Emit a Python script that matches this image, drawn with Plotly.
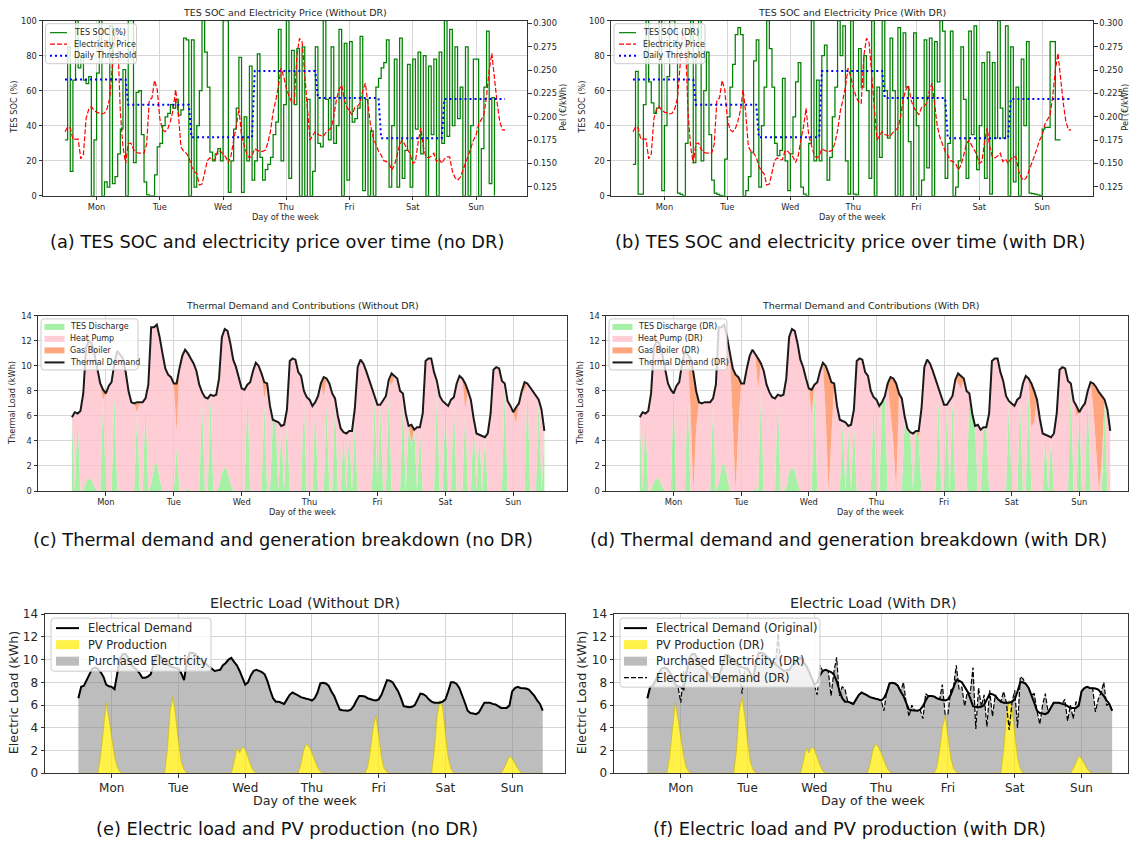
import plotly.graph_objects as go

W, H = 1130, 841
HOURS = list(range(168))
DAY_TICKS = [12, 36, 60, 84, 108, 132, 156]
DAY_LABELS = ["Mon", "Tue", "Wed", "Thu", "Fri", "Sat", "Sun"]

# ---------------- data ----------------
PRICE = [
    0.184, 0.189, 0.188, 0.176, 0.176, 0.176, 0.155, 0.160, 0.198, 0.208,
    0.211, 0.207, 0.205, 0.204, 0.203, 0.204, 0.209, 0.220, 0.252, 0.291,
    0.284, 0.205, 0.168, 0.150, 0.171, 0.172, 0.165, 0.162, 0.161, 0.161,
    0.161, 0.171, 0.218, 0.220, 0.239, 0.229, 0.198, 0.186, 0.184, 0.187,
    0.195, 0.207, 0.229, 0.204, 0.168, 0.163, 0.161, 0.157, 0.147, 0.142,
    0.139, 0.127, 0.128, 0.140, 0.153, 0.156, 0.154, 0.154, 0.164, 0.163,
    0.160, 0.157, 0.151, 0.158, 0.175, 0.189, 0.209, 0.180, 0.170, 0.160,
    0.156, 0.158, 0.166, 0.164, 0.163, 0.163, 0.164, 0.172, 0.185, 0.205,
    0.218, 0.232, 0.252, 0.243, 0.231, 0.222, 0.216, 0.214, 0.265, 0.284,
    0.280, 0.245, 0.205, 0.175, 0.180, 0.184, 0.181, 0.180, 0.179, 0.183,
    0.186, 0.188, 0.200, 0.218, 0.229, 0.234, 0.218, 0.210, 0.206, 0.202,
    0.210, 0.211, 0.215, 0.228, 0.236, 0.210, 0.190, 0.178, 0.170, 0.163,
    0.159, 0.153, 0.152, 0.150, 0.143, 0.148, 0.158, 0.170, 0.175, 0.170,
    0.165, 0.160, 0.150, 0.152, 0.172, 0.188, 0.168, 0.157, 0.156, 0.158,
    0.161, 0.152, 0.155, 0.150, 0.155, 0.157, 0.157, 0.142, 0.135, 0.132,
    0.135, 0.142, 0.150, 0.158, 0.166, 0.175, 0.180, 0.192, 0.197, 0.202,
    0.222, 0.250, 0.268, 0.240, 0.215, 0.195, 0.186, 0.186,
]
THRESHOLD_DAILY = [0.240, 0.213, 0.178, 0.249, 0.220, 0.177, 0.219]

SOC_NO_DR = [
    32, 85, 14, 66, 100, 73, 80, 66, 64, 68,
    0, 32, 70, 100, 0, 8, 5, 97, 7, 11,
    24, 38, 72, 0, 100, 100, 19, 59, 60, 35,
    8, 0.5, 0, 0, 12, 28, 30, 40, 45, 47,
    52, 50, 55, 46, 49, 90, 89, 0, 89, 5,
    40, 60, 100, 82, 62, 25, 20, 24, 27, 20,
    100, 100, 2, 20, 38, 50, 79, 2, 45, 20,
    74, 9, 20, 81, 22, 9, 15, 18, 22, 35,
    42, 95, 20, 52, 100, 10, 83, 52, 84, 0,
    85, 0, 55, 0, 14, 85, 30, 28, 100, 55,
    32, 85, 30, 40, 95, 0, 87, 9, 88, 42,
    44, 50, 91, 3, 55, 0, 37, 0, 62, 67,
    73, 76, 89, 5, 40, 78, 5, 90, 10, 26,
    75, 5, 78, 38, 82, 24, 80, 0, 74, 35,
    78, 0, 82, 30, 100, 34, 95, 40, 85, 44,
    62, 0, 85, 0, 40, 78, 78, 0, 27, 62,
    94, 7, 56, 0,
]
SOC_DR = [
    18, 71, 1, 1, 52, 100, 65, 53, 47, 50,
    100, 3, 40, 68, 100, 100, 94, 1.5, 0.8, 0,
    30, 88, 100, 19, 80, 100, 20, 60, 82, 35,
    9, 1.5, 0.8, 0.3, 0, 21, 45, 62, 75, 92,
    96, 92, 0, 3, 11, 25, 77, 89, 5, 40,
    62, 100, 84, 62, 30, 23, 26, 67, 20, 3,
    24, 45, 65, 76, 5, 1, 0, 30, 100, 20,
    66, 20, 80, 86, 9, 22, 45, 62, 100, 80,
    97, 20, 1, 100, 1, 0.5, 84, 62, 80, 60,
    10, 100, 0, 62, 22, 100, 60, 33, 90, 60,
    0, 96, 0, 93, 62, 31, 0, 93, 40, 0,
    9, 89, 16, 90, 0, 88, 65, 100, 94, 10,
    30, 94, 0, 5, 20, 85, 55, 10, 94, 35,
    97, 15, 40, 76, 10, 82, 1, 76, 33, 100,
    50, 33, 97, 0, 85, 8, 62, 0, 78, 40,
    88, 1.5, 1.2, 1.0, 0.5, 0.2, 38, 39, 39, 88,
    88, 32, 32, 32,
]

THERMAL_DEMAND = [
    5.9, 6.3, 6.2, 6.4, 7.8, 11.5, 12.0, 11.8, 10.9, 9.7,
    8.6, 8.1, 7.8, 8.4, 8.7, 10.2, 11.2, 10.9, 10.6, 9.5,
    8.0, 7.1, 7.0, 7.1, 7.1, 7.1, 7.4, 8.5, 13.1, 13.1,
    13.3, 12.3, 11.0, 9.8, 9.3, 9.1, 8.6, 8.6, 9.8, 10.8,
    11.3, 11.0, 10.6, 10.2, 9.6, 8.5, 7.9, 7.5, 7.4, 7.7,
    7.6, 7.7, 9.0, 12.3, 12.95, 12.8, 11.8, 10.5, 9.9, 9.0,
    8.2, 8.1, 8.5, 8.7, 9.6, 10.25, 10.0, 9.4, 8.7, 8.6,
    6.8, 5.7, 5.6, 5.5, 5.2, 5.3, 6.5, 10.4, 10.6, 10.5,
    9.5, 9.2, 8.0, 7.5, 7.3, 6.8, 7.1, 7.6, 8.6, 9.1,
    9.0, 8.6, 7.8, 7.4, 6.0, 5.0, 4.7, 4.6, 4.8, 4.8,
    6.6, 9.9, 10.5, 10.2, 9.6, 8.9, 8.3, 7.5, 6.9, 6.9,
    7.3, 7.6, 8.9, 9.4, 9.2, 9.0, 8.0, 7.8, 6.2, 5.2,
    5.3, 4.9, 5.1, 5.1, 6.2, 10.4, 10.6, 10.6, 9.5, 8.8,
    7.6, 7.2, 7.0, 6.8, 7.3, 7.5, 8.6, 9.2, 9.0, 8.6,
    8.0, 7.3, 5.8, 4.6, 4.5, 4.4, 4.3, 4.6, 6.2, 9.7,
    9.9, 9.8, 8.8, 8.6, 7.2, 6.8, 6.3, 6.7, 7.0, 8.0,
    8.7, 8.6, 8.3, 7.9, 7.6, 7.3, 6.5, 4.8,
]
# hour -> kWh (hours not listed are zero)
TES_NO_DR = {0: 5.9, 2: 6.0, 4: 0.1, 5: 0.7, 6: 1.05, 7: 0.9, 8: 0.3, 11: 7.3,
             15: 7.8, 17: 0.15, 23: 6.3, 26: 7.0, 28: 0.5, 29: 2.0, 30: 2.2,
             31: 1.0, 37: 3.5, 41: 0.2, 46: 7.4, 49: 7.6, 52: 0.3, 53: 1.5,
             54: 1.9, 55: 1.6, 56: 0.6, 62: 8.0, 68: 7.0, 71: 5.6, 72: 5.5,
             74: 5.0, 76: 5.5, 82: 7.5, 86: 7.0, 90: 7.0, 93: 7.3, 96: 4.7,
             98: 4.8, 100: 5.5, 107: 7.5, 109: 6.9, 112: 8.0, 117: 7.5, 119: 5.2,
             120: 3.6, 121: 4.9, 123: 5.1, 129: 8.0, 132: 7.0, 135: 7.3, 139: 6.5,
             142: 5.5, 144: 4.5, 146: 4.3, 153: 8.5, 161: 8.5, 165: 7.3, 167: 4.8}
GAS_NO_DR = {11: 0.8, 23: 0.8, 37: 3.9, 68: 1.3, 89: 1.5, 113: 0.9, 120: 1.4,
             139: 2.1, 157: 1.3, 160: 0.7}
TES_DR = {0: 5.9, 2: 6.0, 4: 0.1, 5: 0.7, 6: 1.05, 7: 0.9, 8: 0.3, 12: 7.8,
          17: 7.8, 26: 7.0, 28: 0.5, 29: 2.0, 30: 2.2, 31: 1.0, 41: 0.2, 43: 8.0,
          49: 7.5, 52: 0.3, 53: 1.5, 54: 1.9, 55: 1.6, 56: 0.6, 62: 8.2, 72: 5.5,
          74: 5.0, 76: 5.6, 83: 7.4, 86: 7.0, 87: 7.3, 94: 5.5, 95: 4.7, 96: 4.7,
          98: 4.8, 99: 4.3, 106: 7.5, 109: 6.9, 111: 7.4, 117: 7.8, 118: 6.2,
          119: 5.2, 122: 5.1, 123: 5.1, 131: 7.2, 135: 7.3, 138: 8.0, 144: 4.5,
          146: 4.3, 153: 8.5, 156: 6.3, 159: 7.8, 165: 7.3}
GAS_DR = {18: 4.0, 19: 9.5, 20: 3.0, 33: 5.0, 34: 9.3, 35: 4.0, 42: 2.5, 61: 2.0,
          66: 4.0, 67: 9.4, 68: 4.0, 89: 3.0, 90: 5.0, 91: 8.6, 99: 0.5, 113: 0.8,
          114: 1.0, 139: 3.5, 140: 2.5, 155: 0.8, 161: 2.0, 162: 5.0, 163: 7.9,
          164: 5.0}

ELEC_DEMAND = [
    6.6, 7.6, 7.7, 8.2, 8.8, 9.2, 9.3, 9.2, 8.9, 8.5,
    7.8, 7.65, 7.6, 7.4, 8.8, 10.1, 10.5, 10.5, 10.1, 9.6,
    9.3, 9.1, 8.8, 8.4, 8.4, 8.5, 8.7, 9.6, 10.4, 10.4,
    10.1, 9.9, 9.6, 9.4, 9.3, 9.25, 9.2, 8.8, 8.2, 9.8,
    10.6, 10.6, 10.5, 10.2, 10.0, 9.8, 9.6, 9.4, 9.2, 9.0,
    9.05, 9.1, 9.5, 9.7, 10.0, 10.15, 9.8, 9.5, 9.0, 8.4,
    7.8, 8.0, 8.6, 9.0, 9.1, 9.0, 8.9, 8.7, 8.1, 7.3,
    6.6, 6.3, 6.3, 6.2, 6.1, 6.5, 6.9, 7.1, 7.0, 6.85,
    6.7, 6.6, 6.55, 6.5, 6.4, 6.6, 7.1, 7.9, 7.95, 7.9,
    7.7, 7.2, 6.8, 6.2, 5.6, 5.55, 5.55, 5.5, 5.6, 5.9,
    6.4, 6.8, 6.8, 6.75, 6.6, 6.5, 6.45, 6.4, 6.5, 6.9,
    7.6, 8.2, 8.15, 8.0, 7.6, 7.2, 6.6, 5.9, 5.85, 5.8,
    5.85, 6.0, 6.5, 7.0, 6.95, 6.8, 6.5, 6.3, 6.2, 6.2,
    6.2, 6.3, 6.5, 7.2, 8.0, 8.0, 7.85, 7.5, 6.9, 6.2,
    5.5, 5.3, 5.25, 5.2, 5.35, 5.8, 6.2, 6.2, 6.2, 6.1,
    6.05, 5.9, 5.75, 5.75, 5.75, 5.95, 7.2, 7.5, 7.6, 7.5,
    7.5, 7.45, 7.35, 7.1, 6.8, 6.4, 6.1, 5.5,
]
PV_PRODUCTION = {8: 1.5, 9: 4.0, 10: 6.2, 11: 4.8, 12: 3.0, 13: 1.5, 14: 0.5, 15: 0.1,
                 32: 2.0, 33: 5.5, 34: 6.7, 35: 5.0, 36: 2.8, 37: 1.0, 38: 0.3,
                 56: 1.0, 57: 2.2, 58: 1.8, 59: 2.3, 60: 2.1, 61: 1.4, 62: 0.7, 63: 0.2,
                 80: 0.8, 81: 2.0, 82: 2.6, 83: 2.3, 84: 1.8, 85: 1.1, 86: 0.5, 87: 0.15,
                 104: 0.5, 105: 2.0, 106: 4.0, 107: 5.1, 108: 3.3, 109: 1.4, 110: 0.4,
                 111: 0.1, 128: 2.0, 129: 5.0, 130: 6.4, 131: 5.8, 132: 3.5, 133: 1.4,
                 134: 0.4, 153: 0.4, 154: 1.0, 155: 1.5, 156: 1.3, 157: 0.8, 158: 0.4,
                 159: 0.1}
# hours where the DR electrical demand departs from the original
ELEC_DEMAND_DR_CHANGES = {12: 6.2, 13: 9.0, 34: 7.0, 47: 12.3, 61: 6.9, 62: 9.5,
                          66: 6.8, 67: 8.9, 68: 10.2, 69: 6.8, 70: 7.6, 71: 7.4,
                          85: 5.5, 86: 7.2, 92: 8.0, 94: 5.0, 95: 6.0, 99: 4.8,
                          100: 7.0, 106: 7.8, 107: 5.2, 108: 5.2, 109: 7.3, 111: 9.5,
                          112: 7.4, 113: 7.6, 114: 5.9, 116: 7.0, 117: 9.3, 118: 3.9,
                          119: 7.5, 121: 6.9, 122: 4.1, 123: 7.3, 124: 5.0, 125: 6.9,
                          128: 7.2, 130: 3.8, 131: 6.2, 132: 7.3, 133: 4.0, 134: 8.5,
                          135: 8.3, 139: 7.0, 141: 4.3, 142: 6.0, 143: 7.0, 150: 6.5,
                          151: 4.6, 152: 6.0, 153: 4.8, 154: 6.3, 161: 5.4, 162: 6.5,
                          164: 8.0, 165: 6.0}

assert len(PRICE) == 168 and len(THERMAL_DEMAND) == 168 and len(ELEC_DEMAND) == 168
assert len(SOC_NO_DR) == 164 and len(SOC_DR) == 164


def expand(d):
    return [d.get(h, 0.0) for h in HOURS]


THRESHOLD = [THRESHOLD_DAILY[h // 24] for h in HOURS]
PV = expand(PV_PRODUCTION)
ELEC_DEMAND_DR = [ELEC_DEMAND_DR_CHANGES.get(h, ELEC_DEMAND[h]) for h in HOURS]


def breakdown(tes_d, gas_d):
    tes, gas = expand(tes_d), expand(gas_d)
    hp = [max(THERMAL_DEMAND[h] - tes[h] - gas[h], 0.0) for h in HOURS]
    return tes, hp, gas


# ---------------- styles ----------------
FONT = "DejaVu Sans"
TXT = "#262626"
GRID = "#d6d6d6"
C_SOC = "#008000"
C_PRICE = "#ff0000"
C_THR = "#0000ff"
C_TES = "rgba(144,238,144,0.8)"
C_HP = "rgba(255,192,203,0.8)"
C_GAS = "rgba(255,150,105,0.85)"
C_PV = "rgba(255,236,0,0.72)"
C_GRAY = "rgba(128,128,128,0.52)"
DASH = "5px,2px"
DOT = "2px,3px"

fig = go.Figure()

# ---------- (a) and (b): SOC + price ----------
for soc, xa, ya, ya2 in [(SOC_NO_DR, "x", "y", "y2"), (SOC_DR, "x2", "y3", "y4")]:
    fig.add_trace(go.Scatter(x=HOURS[:len(soc)], y=soc, mode="lines",
                             line=dict(color=C_SOC, width=1.25, shape="hv"),
                             xaxis=xa, yaxis=ya, showlegend=False))
    fig.add_trace(go.Scatter(x=HOURS, y=PRICE, mode="lines",
                             line=dict(color=C_PRICE, width=1.2, dash=DASH),
                             xaxis=xa, yaxis=ya2, showlegend=False))
    fig.add_trace(go.Scatter(x=HOURS, y=THRESHOLD, mode="lines",
                             line=dict(color=C_THR, width=2, dash=DOT),
                             xaxis=xa, yaxis=ya2, showlegend=False))

# ---------- (c) and (d): thermal breakdown ----------
for tes_d, gas_d, xa, ya, sg in [(TES_NO_DR, GAS_NO_DR, "x3", "y5", "c"),
                                  (TES_DR, GAS_DR, "x4", "y6", "d")]:
    tes, hp, gas = breakdown(tes_d, gas_d)
    for vals, col in [(tes, C_TES), (hp, C_HP), (gas, C_GAS)]:
        fig.add_trace(go.Scatter(x=HOURS, y=vals, mode="lines", stackgroup=sg,
                                 line=dict(width=0), fillcolor=col,
                                 xaxis=xa, yaxis=ya, showlegend=False))
    fig.add_trace(go.Scatter(x=HOURS, y=THERMAL_DEMAND, mode="lines",
                             line=dict(color="#1a1a1a", width=2),
                             xaxis=xa, yaxis=ya, showlegend=False))

# ---------- (e) and (f): electric load ----------
for demand_used, xa, ya, sg in [(ELEC_DEMAND, "x5", "y7", "e"),
                                (ELEC_DEMAND_DR, "x6", "y8", "f")]:
    purch = [max(demand_used[h] - PV[h], 0.0) for h in HOURS]
    fig.add_trace(go.Scatter(x=HOURS, y=PV, mode="lines", stackgroup=sg,
                             line=dict(width=0.8, color="rgba(205,185,0,0.9)"),
                             fillcolor=C_PV, xaxis=xa, yaxis=ya, showlegend=False))
    fig.add_trace(go.Scatter(x=HOURS, y=purch, mode="lines", stackgroup=sg,
                             line=dict(width=0), fillcolor=C_GRAY,
                             xaxis=xa, yaxis=ya, showlegend=False))
    fig.add_trace(go.Scatter(x=HOURS, y=ELEC_DEMAND, mode="lines",
                             line=dict(color="black", width=2),
                             xaxis=xa, yaxis=ya, showlegend=False))
fig.add_trace(go.Scatter(x=HOURS, y=ELEC_DEMAND_DR, mode="lines",
                         line=dict(color="black", width=1.2, dash=DASH),
                         xaxis="x6", yaxis="y8", showlegend=False))


# ---------------- layout helpers ----------------
# vertical placement correction measured from previous renders
def Y(y):
    return (y - 6.35) / 0.9826


def px(x):
    return x / W


def py(y):
    return 1 - Y(y) / H


def dom_x(a, b):
    return [a / W, min(b / W, 1.0)]


def dom_y(top, bottom):
    return [py(bottom), py(top)]


def axis(domain, rng, size, **kw):
    d = dict(domain=domain, range=rng, showline=True, linecolor="#333333",
             linewidth=1, mirror=True, ticks="outside", ticklen=3.5,
             tickcolor="#333333", showgrid=True, gridcolor=GRID, gridwidth=1,
             zeroline=False, tickfont=dict(family=FONT, size=size, color=TXT))
    d.update(kw)
    return d


PA = dict(x=(43, 527), y=(20, 195))
PB = dict(x=(611, 1093), y=(20, 195))
PC = dict(x=(38, 567), y=(315, 490))
PD = dict(x=(606, 1128), y=(315, 490))
PE = dict(x=(45, 565), y=(613, 772))
PF = dict(x=(614, 1128), y=(613, 772))

xt = dict(tickmode="array", tickvals=DAY_TICKS, ticktext=DAY_LABELS)
price_ticks = [0.125, 0.150, 0.175, 0.200, 0.225, 0.250, 0.275, 0.300]
SMALL = 8.3
BIG = 12

lay = {}
lay["xaxis"] = axis(dom_x(*PA["x"]), [-8.35, 175.35], SMALL, anchor="y", **xt)
lay["yaxis"] = axis(dom_y(*PA["y"]), [0, 100], SMALL, anchor="x", tickvals=[0, 20, 40, 60, 80, 100])
lay["yaxis2"] = axis(dom_y(*PA["y"]), [0.1154, 0.3029], SMALL, anchor="x", overlaying="y",
                     side="right", showgrid=False, mirror=False, tickvals=price_ticks,
                     ticktext=["%.3f" % v for v in price_ticks])
lay["xaxis2"] = axis(dom_x(*PB["x"]), [-8.35, 175.35], SMALL, anchor="y3", **xt)
lay["yaxis3"] = axis(dom_y(*PB["y"]), [0, 100], SMALL, anchor="x2", tickvals=[0, 20, 40, 60, 80, 100])
lay["yaxis4"] = axis(dom_y(*PB["y"]), [0.1154, 0.3029], SMALL, anchor="x2", overlaying="y3",
                     side="right", showgrid=False, mirror=False, tickvals=price_ticks,
                     ticktext=["%.3f" % v for v in price_ticks])
lay["xaxis3"] = axis(dom_x(*PC["x"]), [-12, 175], SMALL, anchor="y5", **xt)
lay["yaxis5"] = axis(dom_y(*PC["y"]), [0, 14], SMALL, anchor="x3", tickvals=list(range(0, 15, 2)))
lay["xaxis4"] = axis(dom_x(*PD["x"]), [-12, 173.3], SMALL, anchor="y6", **xt)
lay["yaxis6"] = axis(dom_y(*PD["y"]), [0, 14], SMALL, anchor="x4", tickvals=list(range(0, 15, 2)))
lay["xaxis5"] = axis(dom_x(*PE["x"]), [-12, 175], BIG, anchor="y7", **xt)
lay["yaxis7"] = axis(dom_y(*PE["y"]), [0, 14], BIG, anchor="x5", tickvals=list(range(0, 15, 2)))
lay["xaxis6"] = axis(dom_x(*PF["x"]), [-12, 172.7], BIG, anchor="y8", **xt)
lay["yaxis8"] = axis(dom_y(*PF["y"]), [0, 14], BIG, anchor="x6", tickvals=list(range(0, 15, 2)))

# ---------------- text + legends ----------------
ann = []
shapes = []


def text(s, x, y, size, angle=0, family=FONT, color=TXT, anchor="center"):
    ann.append(dict(text=s, x=px(x), y=py(y), xref="paper", yref="paper",
                    showarrow=False, xanchor=anchor, yanchor="middle",
                    textangle=angle, font=dict(family=family, size=size, color=color)))


def legend_box(x0, y0, x1, y1, handle_x, handle_len, text_x, rows, size, patch_h, items):
    r = 3
    path = (f"M {px(x0 + r)},{py(y0)} L {px(x1 - r)},{py(y0)} "
            f"Q {px(x1)},{py(y0)} {px(x1)},{py(y0 + r)} L {px(x1)},{py(y1 - r)} "
            f"Q {px(x1)},{py(y1)} {px(x1 - r)},{py(y1)} L {px(x0 + r)},{py(y1)} "
            f"Q {px(x0)},{py(y1)} {px(x0)},{py(y1 - r)} L {px(x0)},{py(y0 + r)} "
            f"Q {px(x0)},{py(y0)} {px(x0 + r)},{py(y0)} Z")
    shapes.append(dict(type="path", path=path, xref="paper", yref="paper", layer="above",
                       fillcolor="rgba(255,255,255,0.8)", line=dict(color="#cccccc", width=1)))
    for (kind, style, label), yy in zip(items, rows):
        if kind == "line":
            shapes.append(dict(type="line", xref="paper", yref="paper", layer="above",
                               x0=px(handle_x), x1=px(handle_x + handle_len),
                               y0=py(yy), y1=py(yy), line=style))
        else:
            shapes.append(dict(type="rect", xref="paper", yref="paper", layer="above",
                               x0=px(handle_x), x1=px(handle_x + handle_len),
                               y0=py(yy - patch_h / 2), y1=py(yy + patch_h / 2),
                               fillcolor=style, line=dict(width=0)))
        text(label, text_x, yy, size, anchor="left")


soc_items = lambda name: [
    ("line", dict(color=C_SOC, width=1.2), name),
    ("line", dict(color=C_PRICE, width=1.2, dash=DASH), "Electricity Price"),
    ("line", dict(color=C_THR, width=2, dash=DOT), "Daily Threshold")]
legend_box(45.5, 23, 136.5, 63, 50, 17, 72, [32, 43.5, 55], 8, 6, soc_items("TES SOC (%)"))
legend_box(614, 23, 705, 63, 619, 17, 641, [32, 43.5, 55], 8, 6, soc_items("TES SOC (DR)"))

th_items = lambda s: [
    ("patch", C_TES, "TES Discharge" + s), ("patch", C_HP, "Heat Pump" + s),
    ("patch", C_GAS, "Gas Boiler" + s),
    ("line", dict(color="#1a1a1a", width=2), "Thermal Demand" + s)]
legend_box(41, 318, 138, 369, 44.5, 20, 68, [326, 338, 349.5, 361.5], 8, 6, th_items(""))
legend_box(609, 318, 727, 369, 612.5, 20, 636, [326, 338, 349.5, 361.5], 8, 6, th_items(" (DR)"))

legend_box(51, 617, 211, 670, 56, 23, 86, [627, 643.5, 660], 11.4, 9,
           [("line", dict(color="black", width=2), "Electrical Demand"),
            ("patch", C_PV, "PV Production"),
            ("patch", C_GRAY, "Purchased Electricity")])
legend_box(620, 617, 820, 686, 624, 23, 654, [627, 643.5, 660, 676.5], 11.4, 9,
           [("line", dict(color="black", width=2), "Electrical Demand (Original)"),
            ("patch", C_PV, "PV Production (DR)"),
            ("patch", C_GRAY, "Purchased Electricity (DR)"),
            ("line", dict(color="black", width=1.2, dash=DASH), "Electrical Demand (DR)")])


def cx(p):
    return (p["x"][0] + min(p["x"][1], 1134)) / 2


text("TES SOC and Electricity Price (Without DR)", cx(PA), 12, 9.5)
text("TES SOC and Electricity Price (With DR)", cx(PB), 12, 9.5)
text("Thermal Demand and Contributions (Without DR)", cx(PC), 305, 9.4)
text("Thermal Demand and Contributions (With DR)", 870, 305, 9.4)
text("Electric Load (Without DR)", cx(PE), 602, 14.4)
text("Electric Load (With DR)", 873, 602, 14.4)

text("Day of the week", cx(PA), 216, 8.2)
text("Day of the week", cx(PB), 216, 8.2)
text("Day of the week", cx(PC), 511, 8.2)
text("Day of the week", 870, 511, 8.2)
text("Day of the week", cx(PE), 799, 12.7)
text("Day of the week", 873, 799, 12.7)

text("TES SOC (%)", 14, 107, 8.2, -90)
text("Pel (€/kWh)", 563, 107, 8.2, -90)
text("TES SOC (%)", 582, 107, 8.2, -90)
text("Pel (€/kWh)", 1125, 107, 8.2, -90)
text("Thermal Load (kWh)", 12, 402, 8.2, -90)
text("Thermal Load (kWh)", 580, 402, 8.2, -90)
text("Electric Load (kWh)", 13, 692, 12.7, -90)
text("Electric Load (kWh)", 581, 692, 12.7, -90)

CAP = "DejaVu Sans"
CAPS = 17.8
text("(a) TES SOC and electricity price over time (no DR)", 277, 241, CAPS, family=CAP, color="#111")
text("(b) TES SOC and electricity price over time (with DR)", 850, 241, CAPS, family=CAP, color="#111")
text("(c) Thermal demand and generation breakdown (no DR)", 283, 538, CAPS, family=CAP, color="#111")
text("(d) Thermal demand and generation breakdown (with DR)", 848, 538, CAPS, family=CAP, color="#111")
text("(e) Electric load and PV production (no DR)", 287, 827, CAPS, family=CAP, color="#111")
text("(f) Electric load and PV production (with DR)", 850, 827, CAPS, family=CAP, color="#111")

fig.update_layout(width=W, height=H, margin=dict(l=0, r=0, t=0, b=0),
                  paper_bgcolor="white", plot_bgcolor="white", showlegend=False,
                  annotations=ann, shapes=shapes, **lay)

fig.write_html("out.html", config={"displayModeBar": False},
               post_script="document.body.style.margin='0px';"
                           "document.body.style.overflow='hidden';")
